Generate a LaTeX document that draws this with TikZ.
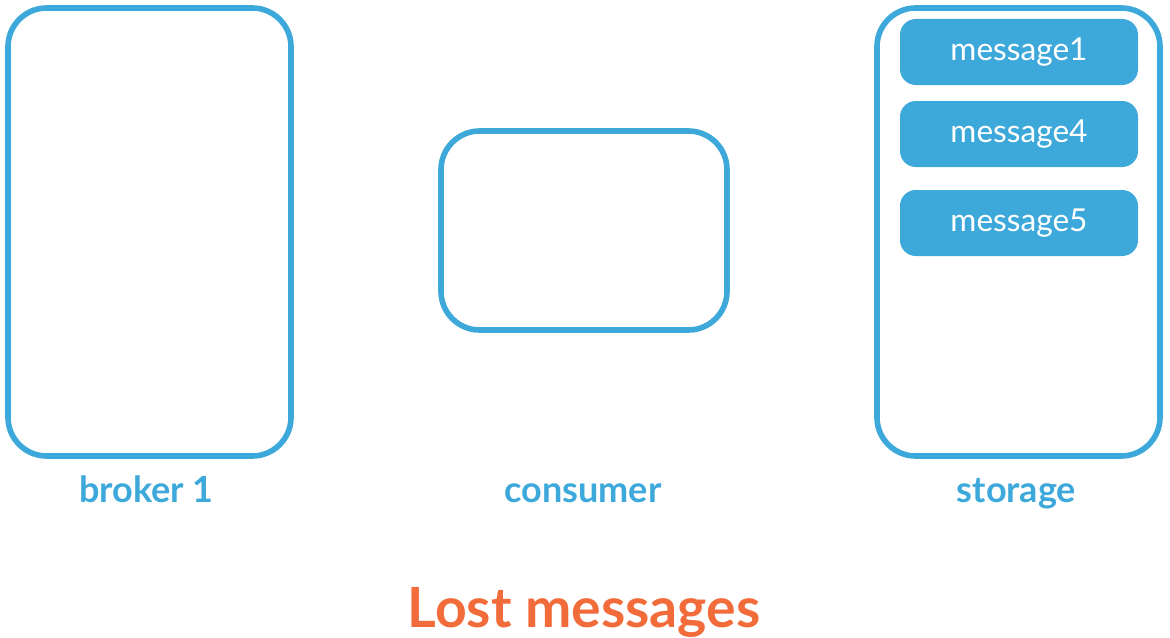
\documentclass[tikz,border=0pt]{standalone}
\usepackage{fontspec}
\setmainfont{Lato}
\usepackage{tikz}
\usetikzlibrary{positioning}

\definecolor{sketchblue}{HTML}{3DA8DA}
\definecolor{lostorange}{HTML}{F26B3A}

\begin{document}
\begin{tikzpicture}[
  every node/.style={align=center},
  holder/.style={draw=sketchblue, line width=3.2pt, rounded corners=22pt, inner sep=0pt},
  msg/.style={fill=sketchblue, text=white, rounded corners=9pt, minimum width=4.76cm, minimum height=1.32cm, inner sep=0pt, font=\fontsize{18}{20}\selectfont},
  caption/.style={text=sketchblue, anchor=base, inner sep=0pt, font=\bfseries\fontsize{20.5}{23}\selectfont}
]
\useasboundingbox (0,0) rectangle (23.4,-12.76);

% --- Holders ---
\node[holder, minimum width=5.66cm, minimum height=8.96cm] (broker)   at ( 2.99, -4.64) {};
\node[holder, minimum width=5.72cm, minimum height=3.98cm] (consumer) at (11.68, -4.61) {};
\node[holder, minimum width=5.66cm, minimum height=8.96cm] (storage)  at (20.37, -4.64) {};

% --- Messages kept in storage ---
\node[msg] (m1) at (20.38, -1.04) {message1};
\node[msg] (m4) at (20.38, -2.68) {message4};
\node[msg] (m5) at (20.38, -4.46) {message5};

% --- Captions ---
\node[caption] (brokerlbl)   at ( 2.93, -10.04) {broker 1};
\node[caption] (consumerlbl) at (11.66, -10.04) {consumer};
\node[caption] (storagelbl)  at (20.33, -10.04) {storage};

\node[text=lostorange, anchor=base, inner sep=0pt, font=\bfseries\fontsize{31.5}{35}\selectfont] (title) at (11.68, -12.54) {Lost messages};

\end{tikzpicture}
\end{document}
